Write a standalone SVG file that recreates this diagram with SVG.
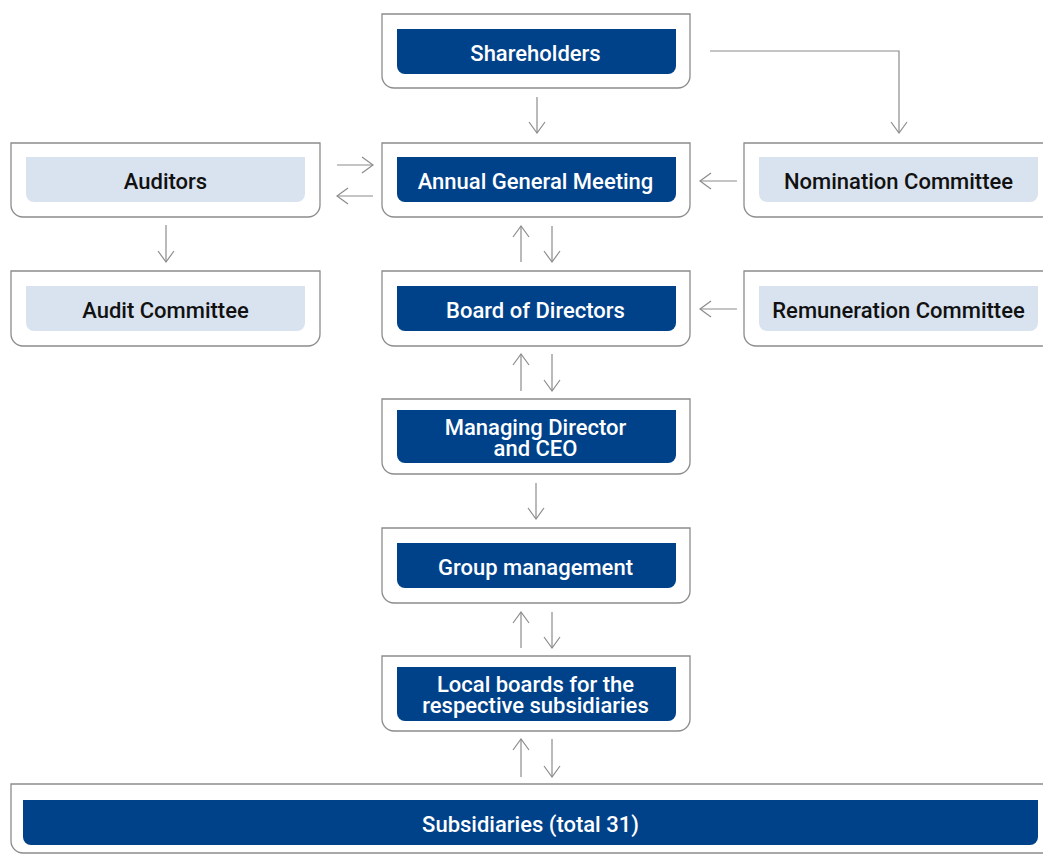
<svg xmlns="http://www.w3.org/2000/svg" width="1043" height="854" viewBox="0 0 1043 854">
<style>
.outer{fill:#ffffff;stroke:#8c8c8c;stroke-width:1.3}
.dark{fill:#00428a}
.light{fill:#d9e3ef}
.tw{fill:#ffffff;font-family:Roboto,"Open Sans",sans-serif;font-weight:500;font-size:22px;text-anchor:middle}
.tb{fill:#111111;font-family:Roboto,"Open Sans",sans-serif;font-weight:500;font-size:22px;text-anchor:middle}
.conn{fill:none;stroke:#8c8c8c;stroke-width:1.2;marker-end:url(#arr)}
</style>
<defs>
<marker id="arr" markerUnits="userSpaceOnUse" markerWidth="24" markerHeight="24" refX="0" refY="0" orient="auto" overflow="visible">
<path d="M-11,-8 L0,0 L-11,8" fill="none" stroke="#8c8c8c" stroke-width="1.2"/>
</marker>
</defs>
<rect width="1043" height="854" fill="#ffffff"/>

<g id="connectors">
<path class="conn" d="M537,97 V133"/>
<path class="conn" d="M710,51 H899 V133"/>
<path class="conn" d="M337,165 H373"/>
<path class="conn" d="M373,196 H337"/>
<path class="conn" d="M737,181 H700"/>
<path class="conn" d="M737,309 H700"/>
<path class="conn" d="M166,225 V262"/>
<path class="conn" d="M521,262 V226"/>
<path class="conn" d="M552,226 V262"/>
<path class="conn" d="M521,391 V354"/>
<path class="conn" d="M552,354 V391"/>
<path class="conn" d="M536,483 V519"/>
<path class="conn" d="M521,648 V612"/>
<path class="conn" d="M552,612 V648"/>
<path class="conn" d="M521,777 V739"/>
<path class="conn" d="M552,739 V777"/>
</g>

<g id="shareholders">
<path class="outer" d="M382,14 H690 V76 A12,12 0 0 1 678,88 H394 A12,12 0 0 1 382,76 Z"/>
<path class="dark" d="M397,29 H676 V66 A8,8 0 0 1 668,74 H405 A8,8 0 0 1 397,66 Z"/>
<text class="tw" x="535.5" y="60.5">Shareholders</text>
</g>

<g id="agm">
<path class="outer" d="M382,143 H690 V205 A12,12 0 0 1 678,217 H394 A12,12 0 0 1 382,205 Z"/>
<path class="dark" d="M397,157 H676 V194 A8,8 0 0 1 668,202 H405 A8,8 0 0 1 397,194 Z"/>
<text class="tw" x="535.5" y="188.5">Annual General Meeting</text>
</g>

<g id="auditors">
<path class="outer" d="M11,143 H320 V205 A12,12 0 0 1 308,217 H23 A12,12 0 0 1 11,205 Z"/>
<path class="light" d="M26,157 H305 V194 A8,8 0 0 1 297,202 H34 A8,8 0 0 1 26,194 Z"/>
<text class="tb" x="165.5" y="188.5">Auditors</text>
</g>

<g id="nomination">
<path class="outer" d="M744,143 H1054 V205 A12,12 0 0 1 1042,217 H756 A12,12 0 0 1 744,205 Z"/>
<path class="light" d="M759,157 H1038 V194 A8,8 0 0 1 1030,202 H767 A8,8 0 0 1 759,194 Z"/>
<text class="tb" x="898.5" y="188.5">Nomination Committee</text>
</g>

<g id="audit-committee">
<path class="outer" d="M11,271 H320 V334 A12,12 0 0 1 308,346 H23 A12,12 0 0 1 11,334 Z"/>
<path class="light" d="M26,286 H305 V323 A8,8 0 0 1 297,331 H34 A8,8 0 0 1 26,323 Z"/>
<text class="tb" x="165.5" y="317.5">Audit Committee</text>
</g>

<g id="board">
<path class="outer" d="M382,271 H690 V334 A12,12 0 0 1 678,346 H394 A12,12 0 0 1 382,334 Z"/>
<path class="dark" d="M397,286 H676 V323 A8,8 0 0 1 668,331 H405 A8,8 0 0 1 397,323 Z"/>
<text class="tw" x="535.5" y="317.5">Board of Directors</text>
</g>

<g id="remuneration">
<path class="outer" d="M744,271 H1054 V334 A12,12 0 0 1 1042,346 H756 A12,12 0 0 1 744,334 Z"/>
<path class="light" d="M759,286 H1038 V323 A8,8 0 0 1 1030,331 H767 A8,8 0 0 1 759,323 Z"/>
<text class="tb" x="898.5" y="317.5">Remuneration Committee</text>
</g>

<g id="ceo">
<path class="outer" d="M382,399 H690 V462 A12,12 0 0 1 678,474 H394 A12,12 0 0 1 382,462 Z"/>
<path class="dark" d="M397,410 H676 V455 A8,8 0 0 1 668,463 H405 A8,8 0 0 1 397,455 Z"/>
<text class="tw" x="535.5" y="434.5">Managing Director</text>
<text class="tw" x="535.5" y="455.5">and CEO</text>
</g>

<g id="group-management">
<path class="outer" d="M382,528 H690 V591 A12,12 0 0 1 678,603 H394 A12,12 0 0 1 382,591 Z"/>
<path class="dark" d="M397,543 H676 V580 A8,8 0 0 1 668,588 H405 A8,8 0 0 1 397,580 Z"/>
<text class="tw" x="535.5" y="574.5">Group management</text>
</g>

<g id="local-boards">
<path class="outer" d="M382,656 H690 V719 A12,12 0 0 1 678,731 H394 A12,12 0 0 1 382,719 Z"/>
<path class="dark" d="M397,667 H676 V713 A8,8 0 0 1 668,721 H405 A8,8 0 0 1 397,713 Z"/>
<text class="tw" x="535.5" y="692">Local boards for the</text>
<text class="tw" x="535.5" y="713">respective subsidiaries</text>
</g>

<g id="subsidiaries">
<path class="outer" d="M11,784 H1060 V841 A12,12 0 0 1 1048,853 H23 A12,12 0 0 1 11,841 Z"/>
<path class="dark" d="M23,800 H1038 V837 A8,8 0 0 1 1030,845 H31 A8,8 0 0 1 23,837 Z"/>
<text class="tw" x="530.5" y="831.5">Subsidiaries (total 31)</text>
</g>
</svg>
